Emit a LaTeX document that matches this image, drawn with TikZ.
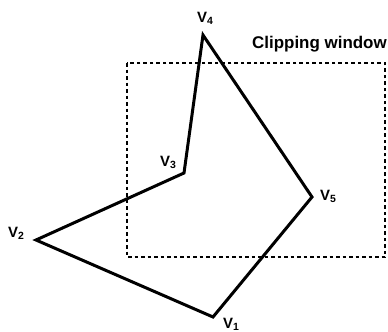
\documentclass[tikz,border=0pt]{standalone}
\usepackage{fontspec}
\setmainfont{Liberation Sans}
\usepackage{tikz}

\begin{document}
\begin{tikzpicture}[x=1bp,y=-1bp,
  poly/.style={draw=black,line width=3bp,line join=miter},
  window/.style={draw=black,line width=1.9bp,dash pattern=on 3.5bp off 3bp},
  vlabel/.style={inner sep=0pt,anchor=base west,font=\fontsize{15}{17}\selectfont\bfseries},
  wlabel/.style={inner sep=0pt,anchor=base west,font=\fontsize{17}{20}\selectfont\bfseries}]
\useasboundingbox (0,0) rectangle (388,332);
% clipping window
\coordinate (wnw) at (127,63);
\coordinate (wse) at (385,257);
\draw[window] (wnw) rectangle (wse);
\node[wlabel] (wtitle) at (252,48) {Clipping window};
% polygon vertices
\coordinate (v1) at (213,317);
\coordinate (v2) at (36,240);
\coordinate (v3) at (184,173);
\coordinate (v4) at (203,35);
\coordinate (v5) at (312,197);
\draw[poly] (v1) -- (v2) -- (v3) -- (v4) -- (v5) -- cycle;
% vertex labels
\node[vlabel] (l1) at ([shift={(10,11)}]v1) {V\textsubscript{1}};
\node[vlabel] (l2) at ([shift={(-28,-3)}]v2) {V\textsubscript{2}};
\node[vlabel] (l3) at ([shift={(-24,-7)}]v3) {V\textsubscript{3}};
\node[vlabel] (l4) at ([shift={(-6,-13)}]v4) {V\textsubscript{4}};
\node[vlabel] (l5) at ([shift={(8,3)}]v5) {V\textsubscript{5}};
\end{tikzpicture}
\end{document}
